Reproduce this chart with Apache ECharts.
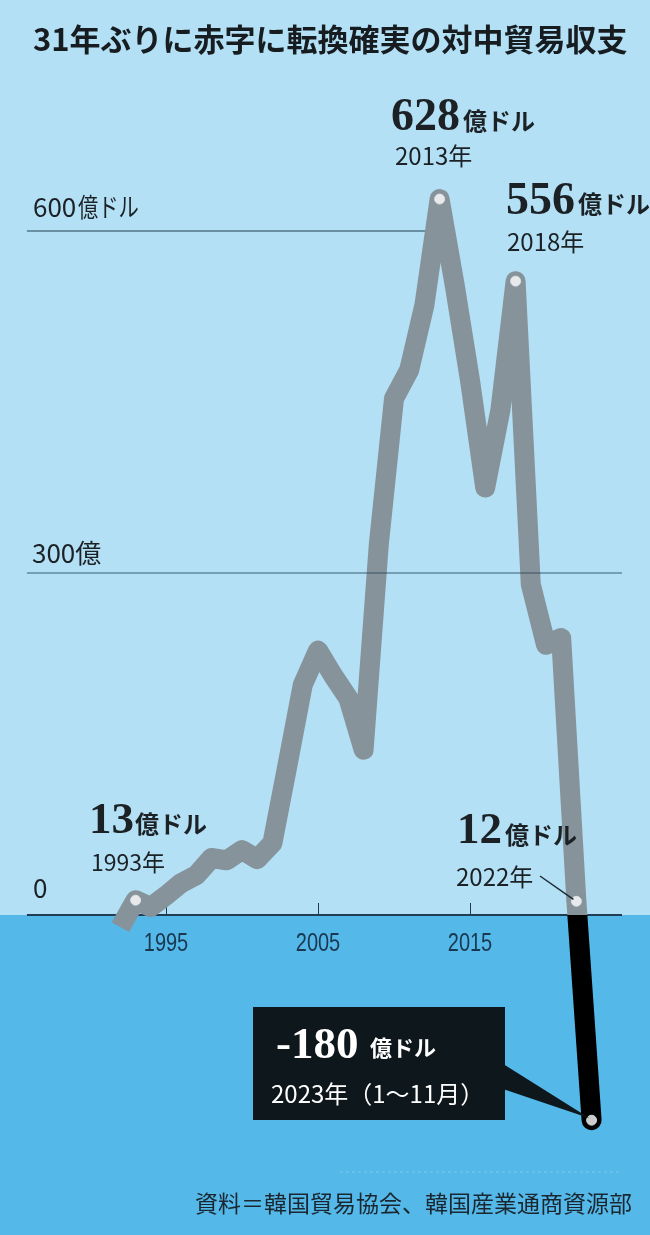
<!DOCTYPE html>
<html>
<head>
<meta charset="utf-8">
<script src="https://cdn.jsdelivr.net/npm/echarts@6/dist/echarts.min.js"></script>
<style>
html,body{margin:0;padding:0;background:#b3e0f5;}
#chart{width:650px;height:1235px;}
</style>
</head>
<body>
<div id="chart"></div>
<script>
// ---- data ----
const years = [1992,1993,1994,1995,1996,1997,1998,1999,2000,2001,2002,2003,2004,2005,2006,2007,2008,2009,2010,2011,2012,2013,2014,2015,2016,2017,2018,2019,2020,2021,2022,2023];
const balance = [-10.7,13,7,17,28,35,50,48,57,49,63,132,202,232,210,190,145,325,453,478,535,628,552,469,375,443,556,290,237,243,12,-180];
const highlightYears = [1993,2013,2018,2022,2023];
const xTickValues = [1995,2005,2015];
const yGridValues = [600,300,0];
const yGridLabels = ['600','300','0'];
const titleText = '31年ぶりに赤字に転換確実の対中貿易収支';
const sourceText = '資料＝韓国貿易協会、韓国産業通商資源部';
const unitText = '億ドル';

// ---- derived ----
const iSplit = years.indexOf(2022);
const mainData = years.slice(0, iSplit + 1).map((y, i) => [y, balance[i]]);
const lastData = years.slice(iSplit).map((y, i) => [y, balance[iSplit + i]]);
const dotData = highlightYears.map(y => [y, balance[years.indexOf(y)]]);

const GRAY = '#87939b';
const CJK = "'Noto Sans CJK JP', sans-serif";
const SERIF = "'Liberation Serif', 'DejaVu Serif', serif";
const SANS = "'Liberation Sans', Arial, sans-serif";

const chart = echarts.init(document.getElementById('chart'), null, {renderer: 'canvas'});

const option = {
  backgroundColor: '#b3e0f5',
  animation: false,
  grid: {left: 14, right: 28, top: 117, bottom: 92},
  xAxis: {
    type: 'value', min: 1985, max: 2025,
    axisLine: {show: true, onZero: true, lineStyle: {color: 'rgba(0,0,0,0)'}},
    axisTick: {show: true, inside: true, length: 12, customValues: xTickValues,
      lineStyle: {color: '#1e3a50', width: 1}},
    axisLabel: {show: false},
    splitLine: {show: false}
  },
  yAxis: {type: 'value', min: -200, max: 700,
    axisLine: {show: false}, axisTick: {show: false}, axisLabel: {show: false},
    splitLine: {show: false}},
  series: [
    {
      type: 'line', data: mainData, z: 10, symbol: 'none', silent: true,
      lineStyle: {color: GRAY, width: 20, join: 'round', cap: 'butt'},
      markLine: {
        silent: true, symbol: 'none', z: 5, label: {show: false},
        data: [
          [{coord: [1985.85, yGridValues[0]], lineStyle: {color: '#6b8fa3', width: 2, type: 'solid'}},
           {coord: [2012.6, yGridValues[0]]}],
          [{coord: [1985.85, yGridValues[2]], lineStyle: {color: '#1f3d53', width: 2, type: 'solid'}},
           {coord: [2025, yGridValues[2]]}]
        ]
      }
    },
    {
      type: 'line', data: lastData, z: 11, symbol: 'none', silent: true,
      lineStyle: {color: '#000000', width: 20, join: 'round', cap: 'round'}
    },
    {
      type: 'scatter', data: dotData, z: 12, symbol: 'circle', symbolSize: 10, silent: true,
      itemStyle: {color: '#ffffff', borderColor: '#e2e8eb', borderWidth: 1},
      markLine: {
        silent: true, symbol: 'none', z: 20, label: {show: false},
        data: [
          [{coord: [1985.85, yGridValues[1]], lineStyle: {color: 'rgba(35,65,85,0.55)', width: 1.5, type: 'solid'}},
           {coord: [2025, yGridValues[1]]}]
        ]
      }
    }
  ]
};
chart.setOption(option);

// ---- decorations positioned from the scales ----
const toPx = p => chart.convertToPixel({gridIndex: 0}, p);
const zeroY = toPx([2000, 0])[1];
const p2022 = toPx(lastData[0]);
const p2023 = toPx(lastData[1]);
const capR = 10;
const gTop = p2022[1] - capR, gBot = p2023[1] + capR;
const zeroOff = Math.min(1, Math.max(0, (zeroY - gTop) / (gBot - gTop)));

function txt(text, x, y, font, fill, align, sx) {
  return {type: 'text', z: 100, silent: true, x: x, y: y, scaleX: sx || 1,
    style: {text: text, x: 0, y: 0, font: font, fill: fill || '#1b2125',
      textAlign: align || 'left', textVerticalAlign: 'middle'}};
}
const DARK = '#1b2125';

const tickLabels = xTickValues.map(v => txt(String(v), toPx([v, 0])[0], zeroY + 29,
  "25px " + SANS, '#1b3750', 'center', 0.8));

chart.setOption({
  series: [{}, {
    lineStyle: {color: new echarts.graphic.LinearGradient(0, gTop, 0, gBot, [
      {offset: 0, color: GRAY}, {offset: zeroOff, color: GRAY},
      {offset: zeroOff, color: '#000000'}, {offset: 1, color: '#000000'}], true)}
  }, {}],
  graphic: [
    {type: 'rect', z: -10, silent: true, shape: {x: 0, y: zeroY, width: 650, height: 1235 - zeroY},
      style: {fill: '#54b8e8'}},
    {type: 'line', z: -9, silent: true, shape: {x1: 340, y1: 1172, x2: 622, y2: 1172},
      style: {stroke: 'rgba(255,255,255,0.12)', lineWidth: 2, lineDash: [3, 3]}},
    // title
    txt(titleText, 33, 39, "bold 31px " + CJK, '#161c20'),
    // y labels
    txt(yGridLabels[0], 33, 207, "26px " + CJK, DARK),
    txt(unitText, 78, 207, "26px " + CJK, DARK, 'left', 0.78),
    txt(yGridLabels[1] + '億', 32, 553, "26px " + CJK, DARK),
    txt(yGridLabels[2], 33, 888, "26px " + CJK, DARK),
    // 628
    txt('628', 391, 118, "bold 46px " + SERIF, DARK),
    txt(unitText, 463, 121, "bold 24px " + CJK, DARK),
    txt('2013年', 395, 156, "24px " + CJK, DARK),
    // 556
    txt('556', 506, 202, "bold 46px " + SERIF, DARK),
    txt(unitText, 578, 204, "bold 24px " + CJK, DARK),
    txt('2018年', 507, 242, "24px " + CJK, DARK),
    // 13
    txt('13', 89, 821, "bold 45px " + SERIF, DARK),
    txt(unitText, 135, 824, "bold 24px " + CJK, DARK),
    txt('1993年', 91, 862, "23px " + CJK, DARK),
    // 12
    txt('12', 457, 831, "bold 45px " + SERIF, DARK),
    txt(unitText, 505, 835, "bold 24px " + CJK, DARK),
    txt('2022年', 456, 877, "24px " + CJK, DARK),
    {type: 'line', z: 100, silent: true,
      shape: {x1: 540, y1: 876, x2: p2022[0] - 3, y2: p2022[1] - 2},
      style: {stroke: '#1b2a33', lineWidth: 1.5}},
    // callout
    {type: 'polygon', z: 90, silent: true,
      shape: {points: [[500, 1062], [500, 1088], [p2023[0] - 2, p2023[1] - 2]]},
      style: {fill: '#0e171c'}},
    {type: 'rect', z: 91, silent: true, shape: {x: 253, y: 1007, width: 252, height: 113},
      style: {fill: '#0e171c'}},
    txt('-180', 276, 1046, "bold 45px " + SERIF, '#ffffff'),
    txt(unitText, 370, 1048, "bold 22px " + CJK, '#ffffff'),
    txt('2023年（1～11月）', 271, 1094, "24px " + CJK, '#ffffff'),
    // source
    txt(sourceText, 632, 1203, "23px " + CJK, '#1a2630', 'right')
  ].concat(tickLabels)
});
</script>
</body>
</html>
